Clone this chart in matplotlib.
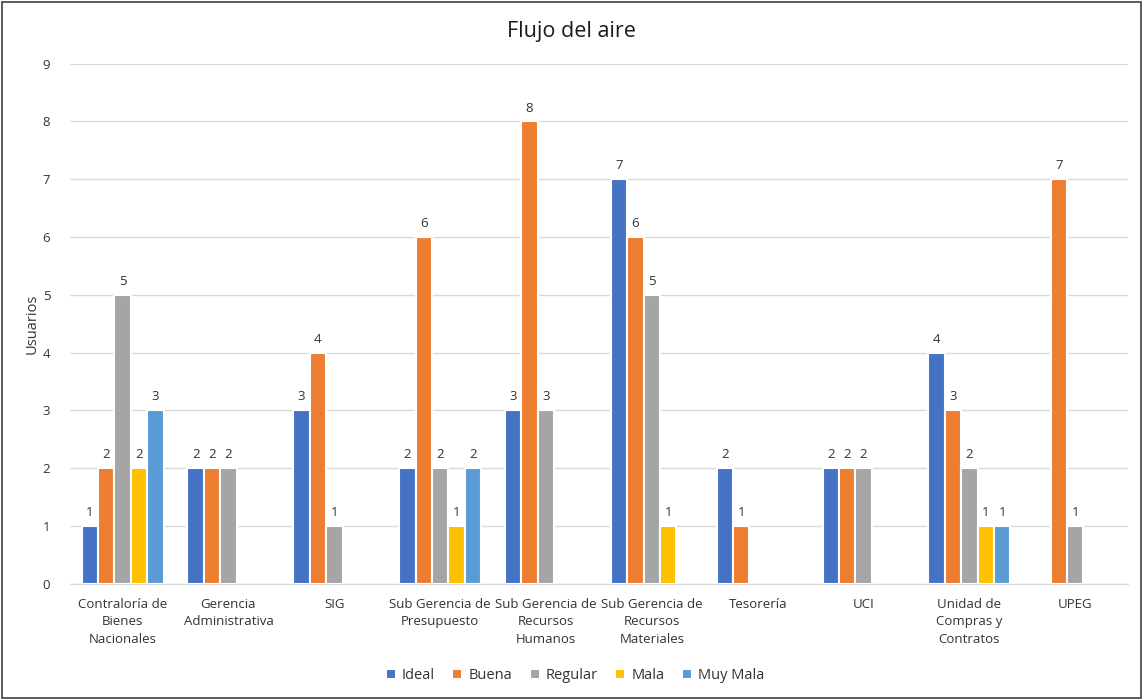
import matplotlib
matplotlib.use("Agg")
import matplotlib.pyplot as plt
import numpy as np

categories = [
    "Contraloría de\nBienes\nNacionales",
    "Gerencia\nAdministrativa",
    "SIG",
    "Sub Gerencia de\nPresupuesto",
    "Sub Gerencia de\nRecursos\nHumanos",
    "Sub Gerencia de\nRecursos\nMateriales",
    "Tesorería",
    "UCI",
    "Unidad de\nCompras y\nContratos",
    "UPEG",
]
series_names = ["Ideal", "Buena", "Regular", "Mala", "Muy Mala"]
ideal = [1, 2, 3, 2, 3, 7, 2, 2, 4, 0]
buena = [2, 2, 4, 6, 8, 6, 1, 2, 3, 7]
regular = [5, 2, 1, 2, 3, 5, 0, 2, 2, 1]
mala = [2, 0, 0, 1, 0, 1, 0, 0, 1, 0]
muy_mala = [3, 0, 0, 2, 0, 0, 0, 0, 1, 0]
series = [ideal, buena, regular, mala, muy_mala]
colors = ["#4472C4", "#ED7D31", "#A5A5A5", "#FFC000", "#5B9BD5"]

plt.rcParams["font.family"] = ["Open Sans", "DejaVu Sans"]

fig = plt.figure(figsize=(11.43, 7.0), dpi=100)
ax = fig.add_axes([0.061, 0.166, 0.926, 0.743])

x = np.arange(len(categories))
w = 0.155
for i, (name, vals, c) in enumerate(zip(series_names, series, colors)):
    pos = x + (i - 2) * w
    v = np.array(vals)
    mask = v > 0
    bars = ax.bar(pos[mask], v[mask], width=w, color=c, edgecolor="white",
                  linewidth=1.5, label=name, zorder=3)
    for b, val in zip(bars, v[mask]):
        ax.text(b.get_x() + b.get_width() / 2, val + 0.12, str(val),
                ha="center", va="bottom", fontsize=9.5, color="#333333")

ax.set_xlim(-0.5, len(categories) - 0.5)
ax.set_ylim(0, 9)
ax.set_yticks(range(10))
ax.set_xticks(x)
ax.set_xticklabels(categories, fontsize=9.5, color="#333333", linespacing=1.45)
ax.tick_params(axis="both", length=0, colors="#333333", labelsize=9.5)
ax.tick_params(axis="x", pad=10)
ax.tick_params(axis="y", pad=14)
ax.grid(axis="y", color="#D9D9D9", linewidth=1, zorder=0)
for s in ["top", "right", "left"]:
    ax.spines[s].set_visible(False)
ax.spines["bottom"].set_color("#D9D9D9")
ax.set_ylabel("Usuarios", fontsize=10.5, color="#333333", labelpad=2)

fig.suptitle("Flujo del aire", y=0.97, fontsize=15.5, color="#1a1a1a")

fig.legend(loc="center", bbox_to_anchor=(0.503, 0.035), ncol=5, frameon=False,
           fontsize=10.5, handlelength=0.7, handleheight=0.7, columnspacing=1.2,
           handletextpad=0.4, labelcolor="#333333")

border = plt.Rectangle((0.002, 0.003), 0.996, 0.994, transform=fig.transFigure,
                       fill=False, edgecolor="#404040", linewidth=1.2)
fig.patches.append(border)

fig.savefig("out.png", dpi=100, facecolor="white")
